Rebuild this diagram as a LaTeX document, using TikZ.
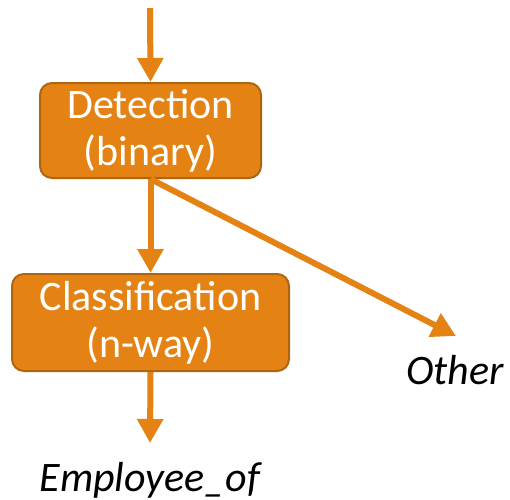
\documentclass[tikz,border=0pt]{standalone}
\usepackage{fontspec}
\setmainfont{Carlito}
\usetikzlibrary{arrows.meta}
\definecolor{boxfill}{HTML}{E48314}
\definecolor{boxedge}{HTML}{AD650F}
\definecolor{flow}{HTML}{E48314}
\tikzset{
  x=1pt, y=-1pt,
  stage/.style={draw=boxedge, line width=2pt, fill=boxfill, rounded corners=12pt,
    text=white, align=center, inner sep=0pt,
    font=\fontsize{42}{47}\selectfont},
  flowarrow/.style={draw=flow, line width=6pt,
    -{Triangle[width=25pt,length=24pt]}},
  outcome/.style={font=\fontsize{42}{47}\selectfont\itshape, inner sep=0pt}
}
\begin{document}
\begin{tikzpicture}
\useasboundingbox (0,0) rectangle (510,499);
\node[stage, minimum width=221pt, minimum height=95pt] (det) at (150.5,130.5)
  {Detection\\(binary)};
\node[stage, minimum width=277pt, minimum height=97pt] (cls) at (150.5,322.5)
  {Classification\\(n-way)};
\coordinate (in) at (150,8);
\node[outcome, anchor=base] (emp) at (150,491) {Employee\_of};
\node[outcome, anchor=base] (oth) at (455,384) {Other};
\coordinate (othtip) at (456,336);
\coordinate (emptip) at (150,443);

\draw[flowarrow] (in) -- (det.north);
\draw[flowarrow] (det.south) -- (cls.north);
\draw[flowarrow] (det.south) -- (othtip);
\draw[flowarrow] (cls.south) -- (emptip);
\end{tikzpicture}
\end{document}
